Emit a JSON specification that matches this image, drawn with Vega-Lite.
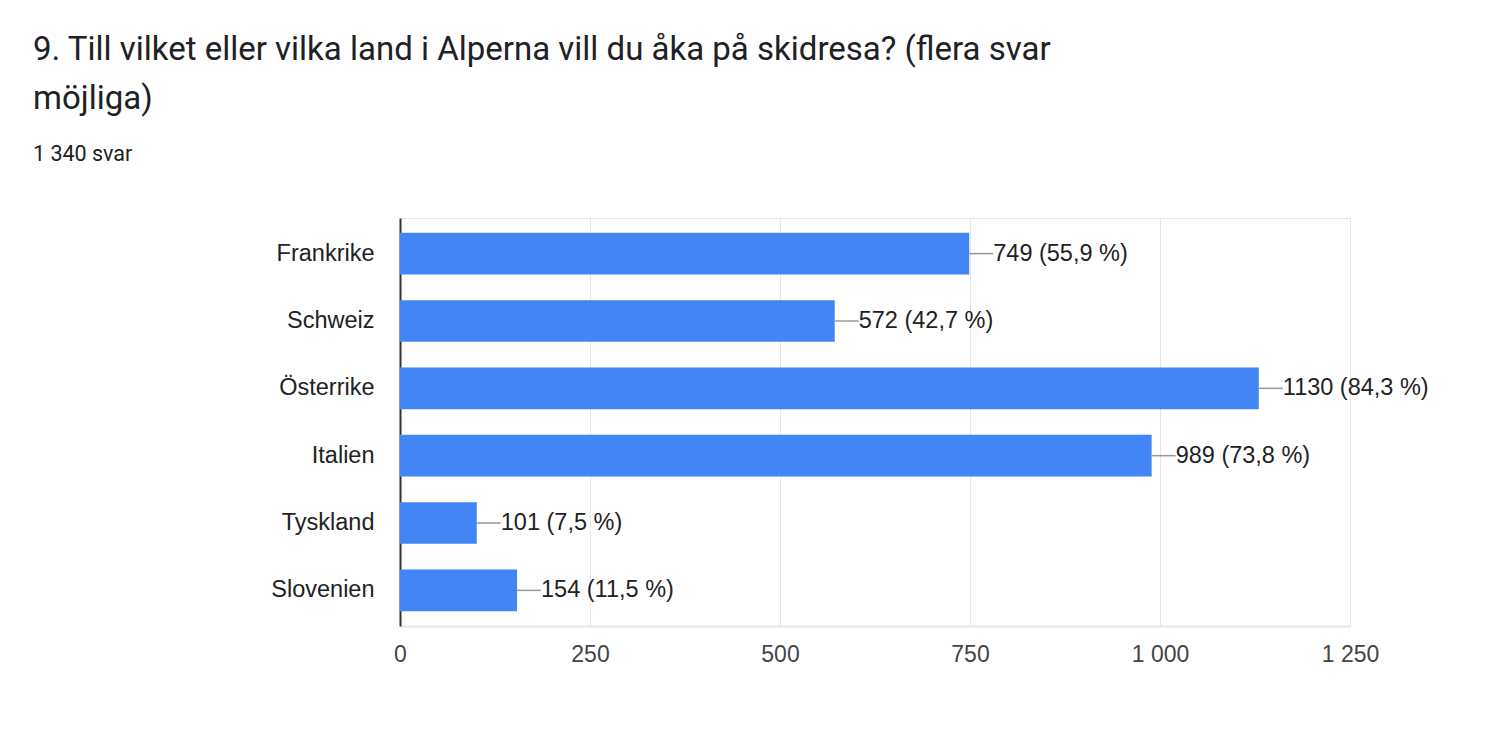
{
  "$schema": "https://vega.github.io/schema/vega-lite/v6.json",
  "width": 950,
  "height": 408,
  "autosize": {"type": "pad"},
  "padding": {"left": 33, "top": 33, "right": 0, "bottom": 0},
  "background": "white",
  "view": {"stroke": "#e6e6e6", "strokeWidth": 1},
  "title": {
    "text": ["9. Till vilket eller vilka land i Alperna vill du åka på skidresa? (flera svar", "möjliga)"],
    "subtitle": "1 340 svar",
    "anchor": "start",
    "frame": "bounds",
    "font": "Roboto",
    "fontSize": 33,
    "fontWeight": "normal",
    "color": "#202124",
    "lineHeight": 49,
    "subtitleFont": "Roboto",
    "subtitleFontSize": 21.5,
    "subtitleColor": "#202124",
    "subtitlePadding": 28,
    "offset": 53
  },
  "data": {
    "values": [
      {"land": "Frankrike", "antal": 749, "etikett": "749 (55,9 %)"},
      {"land": "Schweiz", "antal": 572, "etikett": "572 (42,7 %)"},
      {"land": "Österrike", "antal": 1130, "etikett": "1130 (84,3 %)"},
      {"land": "Italien", "antal": 989, "etikett": "989 (73,8 %)"},
      {"land": "Tyskland", "antal": 101, "etikett": "101 (7,5 %)"},
      {"land": "Slovenien", "antal": 154, "etikett": "154 (11,5 %)"}
    ]
  },
  "encoding": {
    "y": {
      "field": "land",
      "type": "nominal",
      "sort": null,
      "scale": {"paddingInner": 0.382, "paddingOuter": 0.22},
      "axis": {
        "title": null,
        "ticks": false,
        "domainColor": "#333333",
        "domainWidth": 2,
        "labelFont": "Liberation Sans",
        "labelFontSize": 23.5,
        "labelColor": "#222222",
        "labelPadding": 26,
        "minExtent": 367,
        "maxExtent": 367,
        "grid": false
      }
    },
    "x": {
      "field": "antal",
      "type": "quantitative",
      "scale": {"domain": [0, 1250], "nice": false},
      "axis": {
        "title": null,
        "values": [0, 250, 500, 750, 1000, 1250],
        "labelExpr": "replace(format(datum.value, ','), ',', ' ')",
        "labelFlush": false,
        "ticks": false,
        "grid": true,
        "gridColor": "#e6e6e6",
        "gridWidth": 1,
        "domainColor": "#e6e6e6",
        "domainWidth": 2,
        "labelFont": "Liberation Sans",
        "labelFontSize": 23,
        "labelColor": "#444444",
        "labelPadding": 17
      }
    }
  },
  "layer": [
    {"mark": {"type": "bar", "color": "#4285f4"}},
    {
      "mark": {"type": "rule", "color": "#999999", "strokeWidth": 1.5, "x2Offset": 24},
      "encoding": {"x2": {"field": "antal"}}
    },
    {
      "mark": {"type": "text", "align": "left", "baseline": "middle", "dx": 24, "font": "Liberation Sans", "fontSize": 23.5, "color": "#222222"},
      "encoding": {"text": {"field": "etikett", "type": "nominal"}}
    }
  ]
}
